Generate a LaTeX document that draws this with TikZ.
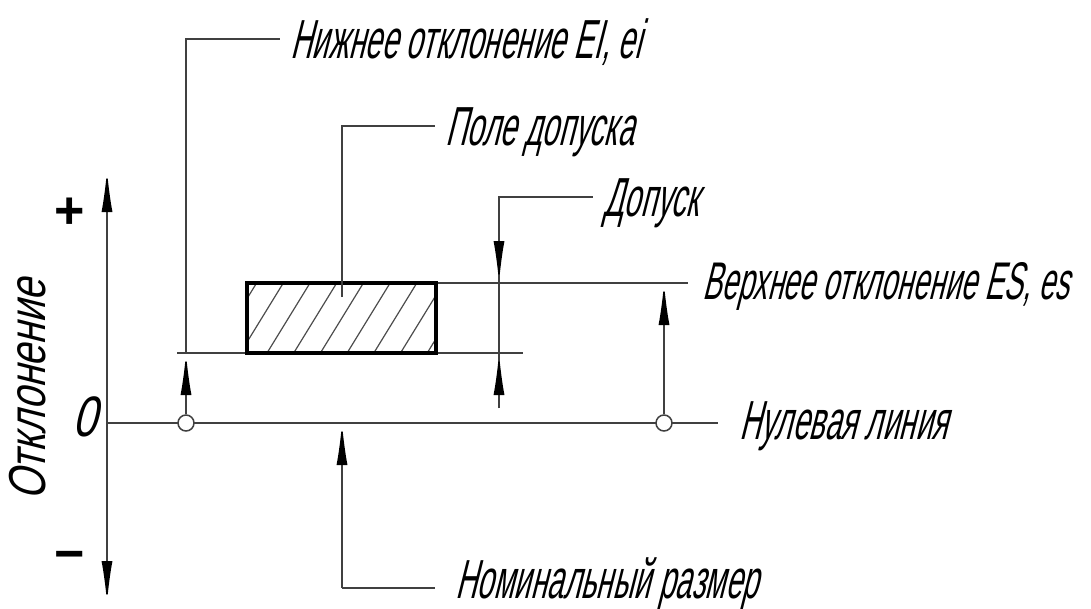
\documentclass[tikz,border=0pt]{standalone}
\usepackage{fontspec}
\setmainfont{Liberation Sans}
\newfontfamily\gostfont{Liberation Sans}[FakeStretch=0.54,FakeSlant=0.25]
\newfontfamily\gostwide{Liberation Sans}[FakeStretch=0.76,FakeSlant=0.25]
\usetikzlibrary{calc}
\usetikzlibrary{arrows.meta,positioning}

\begin{document}
\begin{tikzpicture}[x=1pt,y=-1pt,
    >={Latex[length=42pt,width=11pt,color=black]},
    leader/.style={line width=1.5pt,black!75},
    fieldbox/.style={line width=3.5pt,black},
    hatch/.style={line width=1.2pt,black!70},
    pt/.style={circle,draw=black!75,line width=1.5pt,fill=white,minimum size=16pt,inner sep=0pt},
    lbl/.style={font=\gostfont\fontsize{55}{60}\selectfont,anchor=west,
        inner ysep=0pt,inner xsep=10pt,text height=39pt,text depth=0pt},
    sign/.style={font=\fontsize{52}{52}\selectfont\bfseries,inner sep=0pt}]
    \useasboundingbox (0,0) rectangle (1091,608);
    %KOORDINAT
    \coordinate (axtop) at (107,170);
    \coordinate (axbot) at (107,603);
    \coordinate (z0) at (107,423);
    \coordinate (lo0) at (177,353);
    \coordinate (lo1) at (523,353);
    \coordinate (up0) at (436,283);
    \coordinate (eiA) at (186,353);
    \coordinate (esA) at (664,283);
    \coordinate (fieldA) at (342,297);
    \coordinate (tolA) at (499,283);
    \coordinate (tolB) at (499,353);
    \coordinate (tolE) at (499,408);
    \coordinate (nomA) at (342,423);
    \coordinate (nomB) at (342,588);
    %TEKS
    \node[lbl] (nlower) at (280,39) {Нижнее отклонение EI, ei};
    \node[lbl] (nfield) at (435,126) {Поле допуска};
    \node[lbl] (ntol) at (593,197) {Допуск};
    \node[lbl,inner xsep=14pt,font=\gostfont\fontsize{53}{58}\selectfont] (nupper) at (688,280) {Верхнее отклонение ES, es};
    \node[lbl,inner xsep=21pt] (nzero) at (718,420) {Нулевая линия};
    \node[lbl,inner xsep=20pt] (nnom) at (435,579) {Номинальный размер};
    \node[lbl,rotate=90,anchor=center,font=\gostwide\fontsize{52}{56}\selectfont,text height=36pt] (ndev) at (27,390) {Отклонение};
    \node[lbl,anchor=center,inner xsep=0pt,font=\gostwide\fontsize{57}{60}\selectfont,text height=41pt] (nnull) at (85,416) {0};
    \node[sign] (nplus) at (70,213) {+};
    \node[sign] (nminus) at (70,561) {−};
    %SUMBU
    \draw[leader,<->] (axtop) -- (axbot);
    \draw[leader] (z0) -- (z0 -| nzero.west);
    \draw[leader] (lo0) -- (lo1);
    \draw[leader] (up0) -- (up0 -| nupper.west);
    %POLE
    \begin{scope}
        \clip (247,283) rectangle (436,353);
        \foreach \k in {-1,...,8}
            \draw[hatch] (240.3+26.7*\k,353) -- ++(43,-70);
    \end{scope}
    \draw[fieldbox] (247,283) rectangle (436,353);
    %TITIK
    \node[pt] (p1) at (186,423) {};
    \node[pt] (p2) at (664,423) {};
    %PANAH
    \draw[leader,->] (p1) -- (eiA);
    \draw[leader] (eiA) |- (nlower.west);
    \draw[leader] (fieldA) |- (nfield.west);
    \draw[leader] (tolE) |- (ntol.west);
    \draw[leader,->] ($(tolA)+(0,-50)$) -- (tolA);
    \draw[leader,->] (tolE) -- (tolB);
    \draw[leader,->] (p2) -- (esA);
    \draw[leader,->] (nomB) -- (nomA);
    \draw[leader] (nomB) -- (nomB -| nnom.west);
\end{tikzpicture}
\end{document}
